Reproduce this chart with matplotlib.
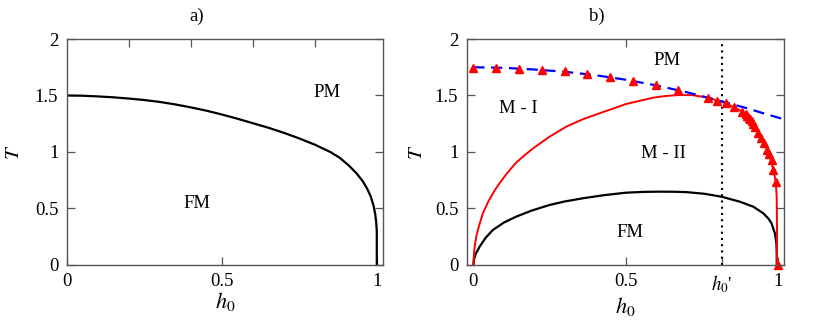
import matplotlib
matplotlib.use('Agg')
import matplotlib.pyplot as plt

# panel a) : FM / PM boundary
a_h = [0.0, 0.05, 0.1, 0.15, 0.2, 0.25, 0.3, 0.35, 0.4, 0.45, 0.5, 0.55, 0.6,
       0.65, 0.7, 0.75, 0.8, 0.85, 0.88, 0.91, 0.935, 0.955, 0.968, 0.98,
       0.989, 0.995, 0.998, 1.0, 1.0]
a_T = [1.5, 1.498, 1.492, 1.484, 1.473, 1.46, 1.443, 1.421, 1.395, 1.366, 1.332,
       1.295, 1.255, 1.215, 1.17, 1.12, 1.065, 1.0, 0.95, 0.88, 0.81, 0.74,
       0.68, 0.61, 0.531, 0.45, 0.38, 0.3, 0.0]

# panel b) : dashed blue line
b_dash_h = [0.0, 0.1, 0.2, 0.3, 0.4, 0.5, 0.6, 0.7, 0.8, 0.9, 0.95, 1.02]
b_dash_T = [1.75, 1.745, 1.73, 1.71, 1.68, 1.64, 1.59, 1.53, 1.46, 1.387, 1.345, 1.29]

# panel b) : red solid line
b_red_h = [0.0, 0.002, 0.005, 0.01, 0.02, 0.031, 0.05, 0.07, 0.085, 0.11, 0.14,
           0.17, 0.195, 0.25, 0.305, 0.36, 0.414, 0.46, 0.502, 0.55, 0.591, 0.63,
           0.673, 0.72, 0.772, 0.802, 0.83, 0.856, 0.884, 0.91, 0.936, 0.956,
           0.972, 0.986, 0.994, 0.997, 0.998, 0.998]
b_red_T = [0.0, 0.1, 0.18, 0.26, 0.36, 0.457, 0.567, 0.66, 0.72, 0.81, 0.905,
           0.975, 1.03, 1.135, 1.224, 1.29, 1.342, 1.385, 1.425, 1.455, 1.481, 1.495,
           1.504, 1.503, 1.481, 1.454, 1.431, 1.396, 1.357, 1.29, 1.165, 1.077,
           0.98, 0.841, 0.737, 0.6, 0.3, 0.0]

# panel b) : red triangles
b_tri_h = [0.0, 0.075, 0.149, 0.225, 0.3, 0.375, 0.45, 0.524, 0.599, 0.673,
           0.772, 0.802, 0.83, 0.856, 0.884, 0.895, 0.9, 0.905, 0.91, 0.915,
           0.92, 0.925, 0.936, 0.945, 0.956, 0.964, 0.972, 0.98, 0.986, 0.994, 1.0]
b_tri_T = [1.745, 1.745, 1.738, 1.728, 1.713, 1.69, 1.66, 1.63, 1.59, 1.545,
           1.481, 1.454, 1.431, 1.396, 1.357, 1.335, 1.32, 1.305, 1.29, 1.27,
           1.25, 1.225, 1.165, 1.121, 1.077, 1.018, 0.98, 0.929, 0.841, 0.737, 0.0]

# panel b) : black FM boundary
b_blk_h = [0.0, 0.002, 0.008, 0.02, 0.04, 0.064, 0.1, 0.14, 0.19, 0.25, 0.3,
           0.359, 0.43, 0.502, 0.56, 0.613, 0.66, 0.7, 0.76, 0.816, 0.876, 0.92,
           0.953, 0.97, 0.98, 0.991, 0.996, 0.997, 0.997]
b_blk_T = [0.0, 0.05, 0.1, 0.16, 0.24, 0.31, 0.375, 0.427, 0.48, 0.531, 0.562,
           0.59, 0.618, 0.64, 0.647, 0.649, 0.648, 0.645, 0.63, 0.604, 0.56, 0.516,
           0.457, 0.41, 0.369, 0.28, 0.19, 0.1, 0.0]

h0_prime = 0.816

plt.rcParams['font.family'] = ['Liberation Serif', 'DejaVu Serif']
plt.rcParams['mathtext.fontset'] = 'stix'

fs = 13.5

fig = plt.figure(figsize=(8.3, 3.21), dpi=100)
ax1 = fig.add_axes([0.0804, 0.1745, 0.3816, 0.704])
ax2 = fig.add_axes([0.5623, 0.1745, 0.3823, 0.704])

frame_col = '#555555'
for ax in (ax1, ax2):
    for s in ax.spines.values():
        s.set_color(frame_col)
        s.set_linewidth(1.0)
    ax.tick_params(direction='in', length=6, width=0.9, color=frame_col,
                   right=True, labelsize=fs, pad=6)
    ax.set_ylim(0, 2)
    ax.set_yticks([0, 0.5, 1, 1.5, 2])
    ax.set_yticklabels(['0', '0.5', '1', '1.5', '2'])
    ax.set_ylabel('$T$', fontsize=15)
    ax.set_xlabel('$h_0$', fontsize=16, labelpad=0)

# ---- panel a)
ax1.plot(a_h, a_T, color='black', lw=1.6)
ax1.set_xlim(0, 1.0215)
ax1.set_xticks([0, 0.5, 1])
ax1.set_xticklabels(['0', '0.5', '1'])
top1 = ax1.secondary_xaxis('top')
top1.set_xticks([0.2, 0.4, 0.6, 0.8])
top1.tick_params(direction='in', length=6, width=0.9, color=frame_col, labeltop=False)
top1.spines['top'].set_visible(False)
ax1.text(0.839, 1.525, 'PM', ha='center', va='center', fontsize=fs)
ax1.text(0.419, 0.546, 'FM', ha='center', va='center', fontsize=fs)
ax1.text(0.41, 1.10, 'a)', transform=ax1.transAxes, ha='center', va='center', fontsize=fs)
ax1.yaxis.set_label_coords(-0.135, 0.5)

# ---- panel b)
ax2.axvline(h0_prime, color='black', ls=(0, (1, 2)), lw=1.5)
ax2.plot(b_blk_h, b_blk_T, color='black', lw=1.6)
ax2.plot(b_red_h, b_red_T, color='red', lw=1.4)
ax2.plot(b_dash_h, b_dash_T, color='blue', lw=1.6, dashes=(5, 3))
ax2.plot(b_tri_h, b_tri_T, ls='none', marker='^', ms=6, color='red', clip_on=False)
ax2.set_xlim(-0.022, 1.021)
ax2.set_xticks([0, 0.5, h0_prime, 1])
ax2.set_xticklabels(['0', '0.5', "$h_0$'", '1'])
top2 = ax2.secondary_xaxis('top')
top2.set_xticks([0.5])
top2.tick_params(direction='in', length=6, width=0.9, color=frame_col, labeltop=False)
top2.spines['top'].set_visible(False)
ax2.text(0.635, 1.814, 'PM', ha='center', va='center', fontsize=fs)
ax2.text(0.146, 1.387, 'M - I', ha='center', va='center', fontsize=fs)
ax2.text(0.624, 0.988, 'M - II', ha='center', va='center', fontsize=fs)
ax2.text(0.515, 0.289, 'FM', ha='center', va='center', fontsize=fs)
ax2.text(0.41, 1.10, 'b)', transform=ax2.transAxes, ha='center', va='center', fontsize=fs)
ax2.yaxis.set_label_coords(-0.125, 0.5)

fig.savefig('out.png', dpi=100)
